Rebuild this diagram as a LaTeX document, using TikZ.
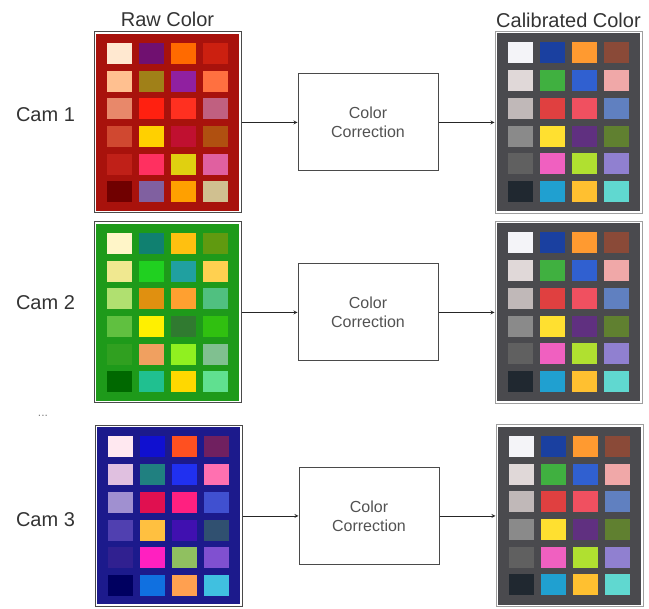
\documentclass[tikz,border=0pt]{standalone}
\usepackage{xcolor}
\usepackage{tikz}
\usepackage{fontspec}
\setmainfont{Liberation Sans}
\usetikzlibrary{arrows, positioning, calc}
\definecolor{rawred}{HTML}{A8120C}
\definecolor{rawgreen}{HTML}{1E9A1A}
\definecolor{rawblue}{HTML}{1C1A8C}
\definecolor{calgray}{HTML}{4A4A4E}
\definecolor{framegray}{HTML}{4A4A4A}
\definecolor{textgray}{HTML}{333333}

% inner fill and the 4x6 patches of one chart
\newcommand{\chartboard}[3]{%
  \fill[#2] ($(#1.north west)+(2.5,-2.5)$) rectangle ($(#1.south east)+(-2.5,2.5)$);
  \edef\patchlist{#3}%
  \foreach \hex [count=\k from 0] in \patchlist {%
    \pgfmathtruncatemacro{\pcol}{mod(\k,4)}%
    \pgfmathtruncatemacro{\prow}{div(\k,4)}%
    \definecolor{patchcol}{HTML}{\hex}%
    \fill[patchcol] ($(#1.north west)+(13.5+32*\pcol,-11.5-27.7*\prow)$) rectangle +(24.5,-21);
  }%
}
\newcommand{\calpalette}{F4F4F8,1A40A0,FF9A30,8A4A38,
  E0D8D8,40B040,3060D0,F0A8A8,
  C0B8B8,E04040,F05060,6080C0,
  8A8A8A,FFE030,603080,608030,
  606060,F060C0,B0E030,9080D0,
  202830,20A0D0,FFC030,60D8D0}

\begin{document}
\begin{tikzpicture}[
    x=1pt, y=1pt,
    node distance=56pt,
    board/.style={rectangle, draw=framegray, line width=1pt, fill=white, minimum width=147, minimum height=181, inner sep=0pt},
    calboard/.style={board, draw=gray!75, minimum height=182},
    process/.style={rectangle, draw=framegray, line width=1pt, minimum width=140, minimum height=97, align=center, text=textgray!85, font=\fontsize{16}{19}\selectfont},
    title/.style={text=textgray, font=\fontsize{20}{24}\selectfont},
    arrow/.style={->, >=stealth, line width=0.8pt, draw=black!85}
]
    \useasboundingbox (0,0) rectangle (649,609);

    % raw charts
    \node[board] (raw1) at (167.5,486.5) {};
    \node[board] (raw2) at (167.5,296.5) {};
    \node[board] (raw3) at (168.5,93) {};

    % correction blocks and calibrated charts
    \node[process, right=of raw1] (cc1) {Color\\Correction};
    \node[process, right=of raw2] (cc2) {Color\\Correction};
    \node[process, right=of raw3] (cc3) {Color\\Correction};
    \node[calboard, right=of cc1] (cal1) {};
    \node[calboard, right=of cc2] (cal2) {};
    \node[calboard, right=of cc3] (cal3) {};

    \chartboard{raw1}{rawred}{FFE8D0,701070,FF6A00,CC2010,
      FFC090,A08018,9020A0,FF7040,
      E8886A,FF2010,FF3020,C06080,
      D04830,FFD000,C01030,B05010,
      C02018,FF3060,E0D010,E060A0,
      700000,8060A0,FFA000,D0C090}
    \chartboard{raw2}{rawgreen}{FFF5C8,108070,FFC010,609A10,
      F0E890,20D020,20A0A0,FFD050,
      B0E070,E09010,FFA030,50C080,
      60C040,FFF000,307A30,30C010,
      30A020,F0A060,90F020,80C090,
      006800,20C090,FFD800,60E090}
    \chartboard{raw3}{rawblue}{FFE8F0,1010D0,FF5020,702060,
      E0C0E0,208080,2030F0,FF70B0,
      A090D0,E01050,FF2080,4050D0,
      5040B0,FFC040,4010B0,305070,
      302090,FF20C0,90C060,8050D0,
      000060,1070E0,FFA050,40C0E0}
    \chartboard{cal1}{calgray}{\calpalette}
    \chartboard{cal2}{calgray}{\calpalette}
    \chartboard{cal3}{calgray}{\calpalette}

    % labels
    \node[title, above=1pt of raw1] (rawtitle) {Raw Color};
    \node[title, above=0pt of cal1] (caltitle) {Calibrated Color};
    \node[title] (cam1) at (45.5,494) {Cam 1};
    \node[title] (cam2) at (45.5,306) {Cam 2};
    \node[text=gray, font=\fontsize{12}{14}\selectfont] (dots) at (43,193) {...};
    \node[title] (cam3) at (45.5,89) {Cam 3};

    \draw[arrow] (raw1) -- (cc1);
    \draw[arrow] (raw2) -- (cc2);
    \draw[arrow] (raw3) -- (cc3);
    \draw[arrow] (cc1) -- (cal1);
    \draw[arrow] (cc2) -- (cal2);
    \draw[arrow] (cc3) -- (cal3);

\end{tikzpicture}
\end{document}
